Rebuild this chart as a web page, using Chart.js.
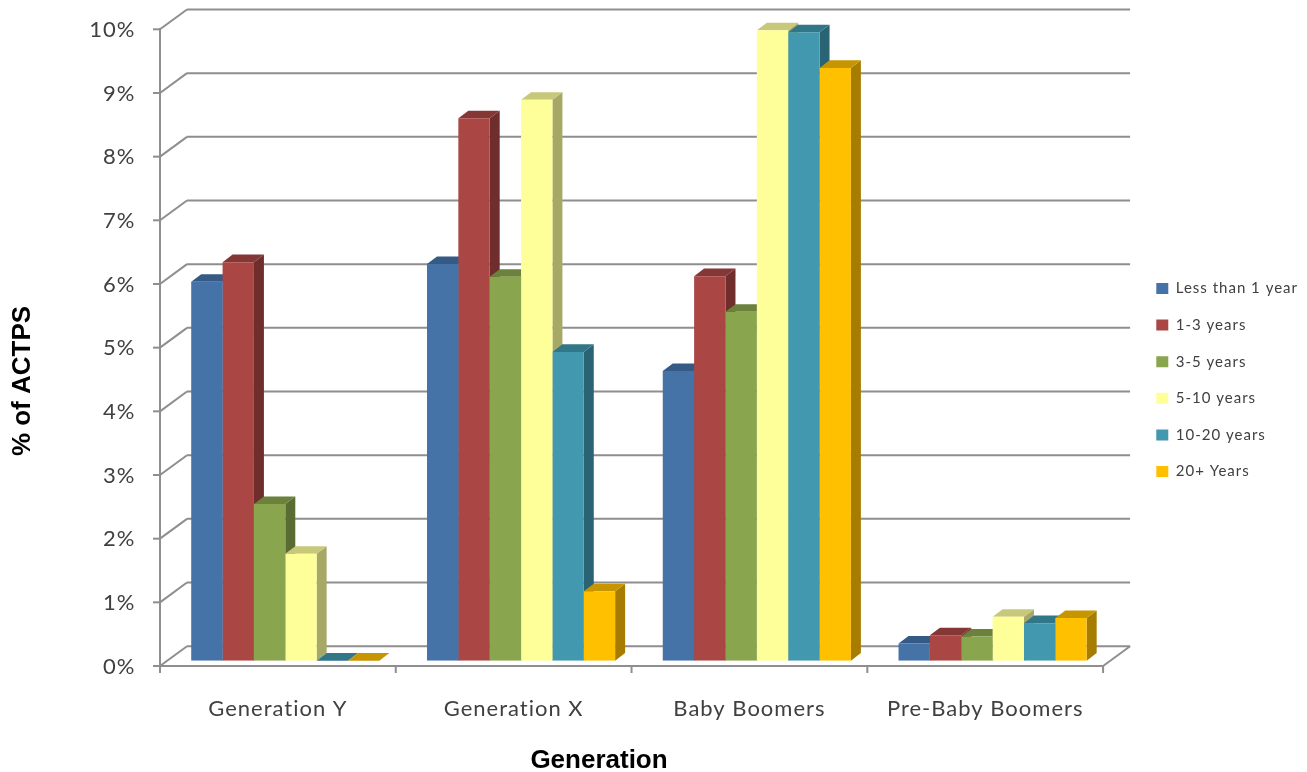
<!DOCTYPE html>
<html>
<head>
<meta charset="utf-8">
<title>ACTPS by generation</title>
<script src="https://cdn.jsdelivr.net/npm/chart.js@4/dist/chart.umd.min.js"></script>
<style>
  html, body { margin: 0; padding: 0; background: #fff; }
  canvas { display: block; }
</style>
</head>
<body>
<canvas id="graphique" width="1307" height="772"></canvas>
<script>
var categories = ['Generation Y', 'Generation X', 'Baby Boomers', 'Pre-Baby Boomers'];
var seriesNames = ['Less than 1 year', '1-3 years', '3-5 years', '5-10 years', '10-20 years', '20+ Years'];

var lessThan1 = [5.95, 6.23, 4.55, 0.27];
var years1to3 = [6.26, 8.52, 6.04, 0.40];
var years3to5 = [2.46, 6.03, 5.48, 0.38];
var years5to10 = [1.68, 8.81, 9.90, 0.69];
var years10to20 = [0, 4.85, 9.87, 0.59];
var years20plus = [0, 1.09, 9.31, 0.67];
var seriesValues = [lessThan1, years1to3, years3to5, years5to10, years10to20, years20plus];

var frontColors = ['#4572A7', '#AA4643', '#89A54E', '#FFFF99', '#4198AF', '#FFC000'];
var topColors = ['#355A85', '#853735', '#6B813C', '#C8C87A', '#317689', '#C79500'];
var sideColors = ['#2E4D72', '#6F2E2C', '#5A6C33', '#A8A866', '#2A6474', '#A67D00'];

// the bars stand a little behind the front edge of the floor
var barShiftX = 7.4, barShiftY = 5.3;
// depth of one bar, and of the whole box
var barDepthX = 10, barDepthY = 7.6;
var boxDepthX = 27, boxDepthY = 19.8;

var lineColor = '#8E8E8E';

function line(ctx, x1, y1, x2, y2) {
  ctx.beginPath();
  ctx.moveTo(x1, y1);
  ctx.lineTo(x2, y2);
  ctx.stroke();
}

function face(ctx, color, pts) {
  ctx.fillStyle = color;
  ctx.beginPath();
  ctx.moveTo(pts[0], pts[1]);
  for (var i = 2; i < pts.length; i += 2) {
    ctx.lineTo(pts[i], pts[i + 1]);
  }
  ctx.closePath();
  ctx.fill();
}

var box3d = {
  id: 'box3d',
  // the labels are spaced out a bit, also while they get measured
  beforeLayout: function(chart) { chart.ctx.letterSpacing = '1px'; },
  beforeDraw: function(chart) { chart.ctx.letterSpacing = '1px'; },
  beforeDatasetsDraw: function(chart) {
    var ctx = chart.ctx;
    var xs = chart.scales.x, ys = chart.scales.y;
    var left = xs.left - barShiftX, right = xs.right - barShiftX;

    // back wall grid and the slanted part at the side of it
    ctx.save();
    ctx.strokeStyle = lineColor;
    ctx.lineWidth = 2;
    ys.ticks.forEach(function(t) {
      var y = ys.getPixelForValue(t.value) + barShiftY;
      line(ctx, left, y, left + boxDepthX, y - boxDepthY);
      line(ctx, left + boxDepthX, y - boxDepthY, right + boxDepthX, y - boxDepthY);
      line(ctx, left - 7, y, left, y);
    });

    // floor and axes
    var y0 = ys.getPixelForValue(0) + barShiftY;
    var y10 = ys.getPixelForValue(10) + barShiftY;
    line(ctx, left, y10 - 1, left, y0 + 7);
    line(ctx, left, y0, right, y0);
    line(ctx, right, y0, right + boxDepthX, y0 - boxDepthY);
    var step = (xs.right - xs.left) / categories.length;
    for (var i = 1; i <= categories.length; i++) {
      line(ctx, left + i * step, y0, left + i * step, y0 + 7);
    }

    // side and top faces, left to right so later bars cover earlier ones
    chart.data.datasets.forEach(function(ds, d) {
      chart.getDatasetMeta(d).data.forEach(function(bar) {
        var l = bar.x - bar.width / 2, r = bar.x + bar.width / 2;
        face(ctx, sideColors[d], [r, bar.y, r + barDepthX, bar.y - barDepthY,
          r + barDepthX, bar.base - barDepthY, r, bar.base]);
        face(ctx, topColors[d], [l, bar.y, l + barDepthX, bar.y - barDepthY,
          r + barDepthX, bar.y - barDepthY, r, bar.y]);
      });
    });
    ctx.restore();
  },
  afterDraw: function(chart) {
    var ctx = chart.ctx;
    ctx.save();
    ctx.letterSpacing = '0px';
    ctx.fillStyle = '#000';
    ctx.font = 'bold 26px "Liberation Sans"';
    ctx.textAlign = 'center';
    ctx.textBaseline = 'middle';
    ctx.fillText('Generation', 599, 760.5);
    ctx.translate(23, 381);
    ctx.rotate(-Math.PI / 2);
    ctx.fillText('% of ACTPS', 0, 0);
    ctx.restore();
  }
};

var datasets = [];
for (var i = 0; i < seriesNames.length; i++) {
  datasets.push({
    label: seriesNames[i],
    data: seriesValues[i],
    backgroundColor: frontColors[i],
    borderWidth: 0,
    barPercentage: 1,
    categoryPercentage: 0.798
  });
}

var ctx = document.getElementById('graphique');
var myChart = new Chart(ctx, {
  type: 'bar',
  data: { labels: categories, datasets: datasets },
  plugins: [box3d],
  options: {
    responsive: false,
    animation: false,
    layout: { padding: { top: 24, bottom: 36, left: 0, right: -1 } },
    plugins: {
      tooltip: { enabled: false },
      legend: {
        position: 'right',
        onClick: null,
        labels: {
          boxWidth: 12,
          boxHeight: 11,
          padding: 21.6,
          color: '#404040',
          font: { family: 'Lato', size: 15 }
        }
      }
    },
    scales: {
      x: {
        grid: { display: false, drawTicks: false },
        border: { display: false },
        ticks: {
          color: '#404040',
          padding: 35,
          labelOffset: -7.4,
          maxRotation: 0,
          font: { family: 'Lato', size: 22 }
        },
        afterFit: function(scale) {
          scale.height = 75.3;
          scale.paddingLeft = 0;
          scale.paddingRight = 0;
        }
      },
      y: {
        min: 0,
        max: 10,
        grid: { display: false, drawTicks: false },
        border: { display: false },
        ticks: {
          stepSize: 1,
          color: '#404040',
          padding: 32,
          labelOffset: 5.8,
          font: { family: 'Lato', size: 22 },
          callback: function(value) { return value + '%'; }
        },
        afterFit: function(scale) {
          scale.width = 167.4;
          scale.paddingTop = 0;
          scale.paddingBottom = 0;
        }
      },
      // spacer between the plot and the legend
      gap: {
        position: 'right',
        display: true,
        grid: { display: false, drawTicks: false },
        border: { display: false },
        ticks: { display: false },
        afterFit: function(scale) {
          scale.width = 24.2;
          scale.paddingTop = 0;
          scale.paddingBottom = 0;
        }
      }
    }
  }
});
</script>
</body>
</html>
